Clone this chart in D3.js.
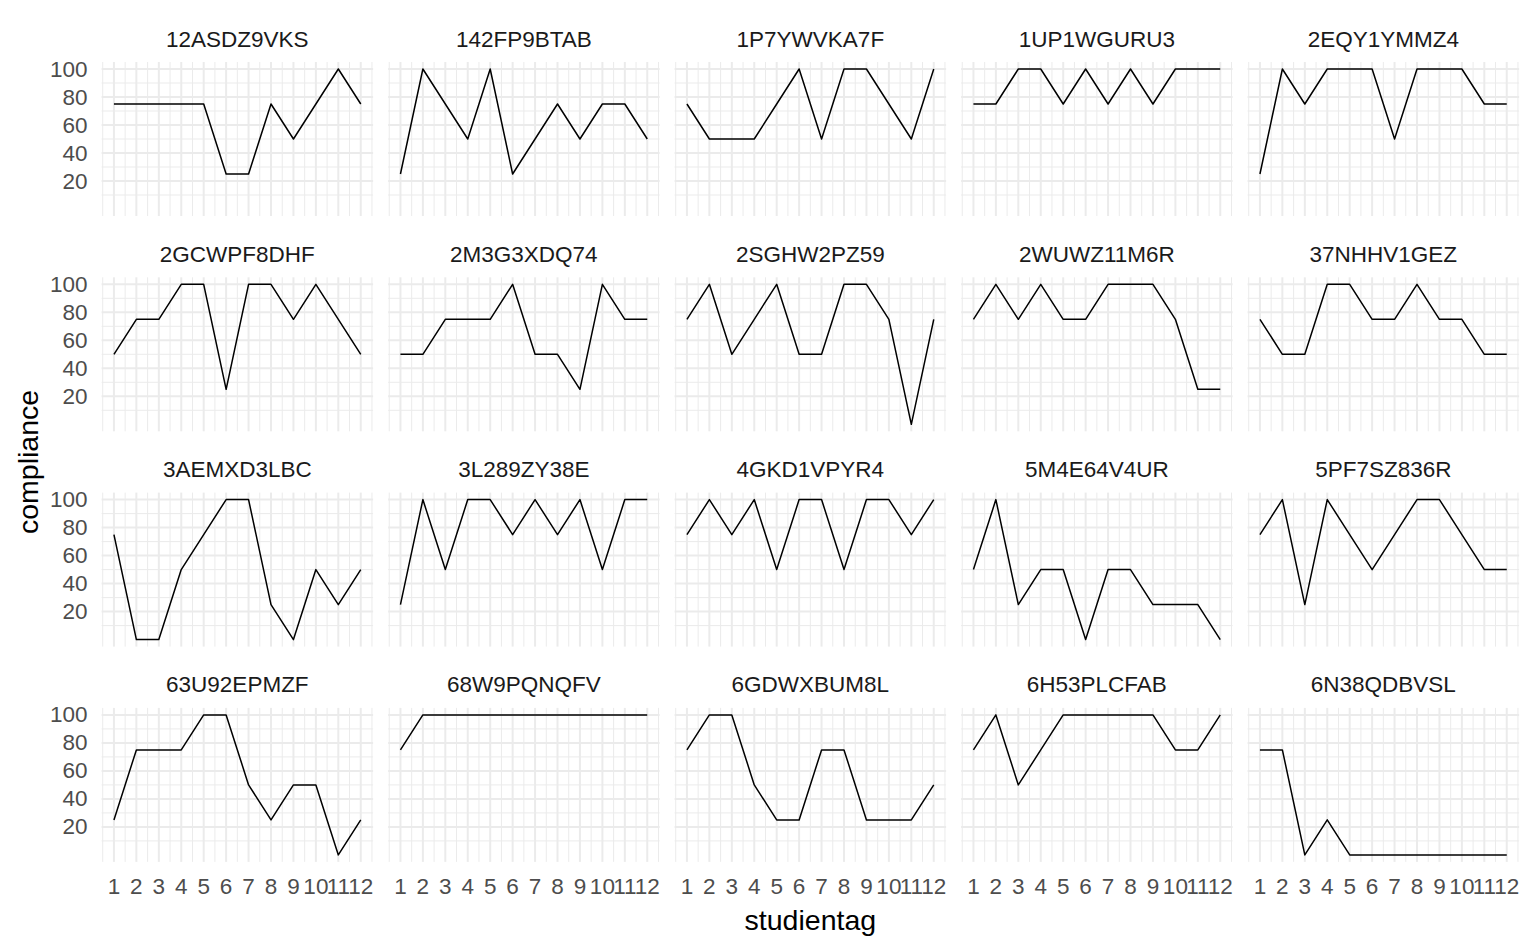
<!DOCTYPE html>
<html>
  <head>
    <meta charset="utf-8">
    <title>compliance per studientag</title>
    <script src="https://d3js.org/d3.v7.min.js"></script>
  </head>
  <style>
    body { margin: 0; background: #fff; }
    text { font-family: "Liberation Sans", Arial, sans-serif; }
    .grid-major { stroke: #ebebeb; stroke-width: 2px; }
    .grid-minor { stroke: #ebebeb; stroke-width: 1px; }
    .tick-label { fill: #4d4d4d; font-size: 22.5px; }
    .strip { fill: #1a1a1a; font-size: 22.5px; }
    .axis-title { fill: #000; font-size: 28.5px; }
  </style>
  <body>
    <script>
      const width = 1536;
      const height = 949;

      const participants = [
        "12ASDZ9VKS", "142FP9BTAB", "1P7YWVKA7F", "1UP1WGURU3", "2EQY1YMMZ4",
        "2GCWPF8DHF", "2M3G3XDQ74", "2SGHW2PZ59", "2WUWZ11M6R", "37NHHV1GEZ",
        "3AEMXD3LBC", "3L289ZY38E", "4GKD1VPYR4", "5M4E64V4UR", "5PF7SZ836R",
        "63U92EPMZF", "68W9PQNQFV", "6GDWXBUM8L", "6H53PLCFAB", "6N38QDBVSL"
      ];
      const studyDays = [1, 2, 3, 4, 5, 6, 7, 8, 9, 10, 11, 12];
      // one row per participant, values for day 1..12
      const compliance = [
        [75, 75, 75, 75, 75, 25, 25, 75, 50, 75, 100, 75],
        [25, 100, 75, 50, 100, 25, 50, 75, 50, 75, 75, 50],
        [75, 50, 50, 50, 75, 100, 50, 100, 100, 75, 50, 100],
        [75, 75, 100, 100, 75, 100, 75, 100, 75, 100, 100, 100],
        [25, 100, 75, 100, 100, 100, 50, 100, 100, 100, 75, 75],
        [50, 75, 75, 100, 100, 25, 100, 100, 75, 100, 75, 50],
        [50, 50, 75, 75, 75, 100, 50, 50, 25, 100, 75, 75],
        [75, 100, 50, 75, 100, 50, 50, 100, 100, 75, 0, 75],
        [75, 100, 75, 100, 75, 75, 100, 100, 100, 75, 25, 25],
        [75, 50, 50, 100, 100, 75, 75, 100, 75, 75, 50, 50],
        [75, 0, 0, 50, 75, 100, 100, 25, 0, 50, 25, 50],
        [25, 100, 50, 100, 100, 75, 100, 75, 100, 50, 100, 100],
        [75, 100, 75, 100, 50, 100, 100, 50, 100, 100, 75, 100],
        [50, 100, 25, 50, 50, 0, 50, 50, 25, 25, 25, 0],
        [75, 100, 25, 100, 75, 50, 75, 100, 100, 75, 50, 50],
        [25, 75, 75, 75, 100, 100, 50, 25, 50, 50, 0, 25],
        [75, 100, 100, 100, 100, 100, 100, 100, 100, 100, 100, 100],
        [75, 100, 100, 50, 25, 25, 75, 75, 25, 25, 25, 50],
        [75, 100, 50, 75, 100, 100, 100, 100, 100, 75, 75, 100],
        [75, 75, 0, 25, 0, 0, 0, 0, 0, 0, 0, 0]
      ];
      const yTicks = [20, 40, 60, 80, 100];
      const yMinor = [10, 30, 50, 70, 90];
      const xMinor = [0.5, 1.5, 2.5, 3.5, 4.5, 5.5, 6.5, 7.5, 8.5, 9.5, 10.5, 11.5, 12.5];

      const nCols = 5;
      const nRows = 4;
      const plotLeft = 101.6;
      const plotTop = 62;
      const panelW = 271.5;
      const panelH = 154;
      const pitchX = 286.5;
      const pitchY = 215.3;

      const x = d3.scaleLinear().domain([0.45, 12.55]).range([0, panelW]);
      const y = d3.scaleLinear().domain([-5, 105]).range([panelH, 0]);

      const line = d3.line()
        .x(function(d, i) { return x(studyDays[i]); })
        .y(function(d) { return y(d); });

      const svg = d3.select("body")
        .append("svg")
          .attr("width", width)
          .attr("height", height);

      participants.forEach(function(id, k) {
        const col = k % nCols;
        const row = Math.floor(k / nCols);
        const g = svg.append("g")
          .attr("transform", "translate(" + (plotLeft + col * pitchX) + "," + (plotTop + row * pitchY) + ")");

        // minor grid first, then major
        g.selectAll("line.ym").data(yMinor).enter().append("line")
          .classed("grid-minor", true)
          .attr("x1", 0).attr("x2", panelW)
          .attr("y1", function(d) { return y(d); })
          .attr("y2", function(d) { return y(d); });
        g.selectAll("line.xm").data(xMinor).enter().append("line")
          .classed("grid-minor", true)
          .attr("y1", 0).attr("y2", panelH)
          .attr("x1", function(d) { return x(d); })
          .attr("x2", function(d) { return x(d); });
        g.selectAll("line.yM").data(yTicks).enter().append("line")
          .classed("grid-major", true)
          .attr("x1", 0).attr("x2", panelW)
          .attr("y1", function(d) { return y(d); })
          .attr("y2", function(d) { return y(d); });
        g.selectAll("line.xM").data(studyDays).enter().append("line")
          .classed("grid-major", true)
          .attr("y1", 0).attr("y2", panelH)
          .attr("x1", function(d) { return x(d); })
          .attr("x2", function(d) { return x(d); });

        g.append("path")
          .datum(compliance[k])
          .attr("d", line)
          .attr("fill", "none")
          .attr("stroke", "#000")
          .attr("stroke-width", 1.5)
          .attr("stroke-linejoin", "round");

        g.append("text")
          .classed("strip", true)
          .attr("x", panelW / 2)
          .attr("y", -23)
          .attr("text-anchor", "middle")
          .attr("dominant-baseline", "central")
          .text(id);

        if (col === 0) {
          g.selectAll("text.yl").data(yTicks).enter().append("text")
            .classed("tick-label", true)
            .attr("x", -14)
            .attr("y", function(d) { return y(d); })
            .attr("text-anchor", "end")
            .attr("dominant-baseline", "central")
            .text(function(d) { return d; });
        }
        if (row === nRows - 1) {
          g.selectAll("text.xl").data(studyDays).enter().append("text")
            .classed("tick-label", true)
            .attr("x", function(d) { return x(d); })
            .attr("y", panelH + 25)
            .attr("text-anchor", "middle")
            .attr("dominant-baseline", "central")
            .text(function(d) { return d; });
        }
      });

      const plotRight = plotLeft + (nCols - 1) * pitchX + panelW;
      const plotBottom = plotTop + (nRows - 1) * pitchY + panelH;

      svg.append("text")
        .classed("axis-title", true)
        .attr("x", (plotLeft + plotRight) / 2)
        .attr("y", plotBottom + 58)
        .attr("text-anchor", "middle")
        .attr("dominant-baseline", "central")
        .text("studientag");

      svg.append("text")
        .classed("axis-title", true)
        .attr("transform", "translate(28," + (plotTop + plotBottom) / 2 + ") rotate(-90)")
        .attr("text-anchor", "middle")
        .attr("dominant-baseline", "central")
        .text("compliance");
    </script>
  </body>
</html>
